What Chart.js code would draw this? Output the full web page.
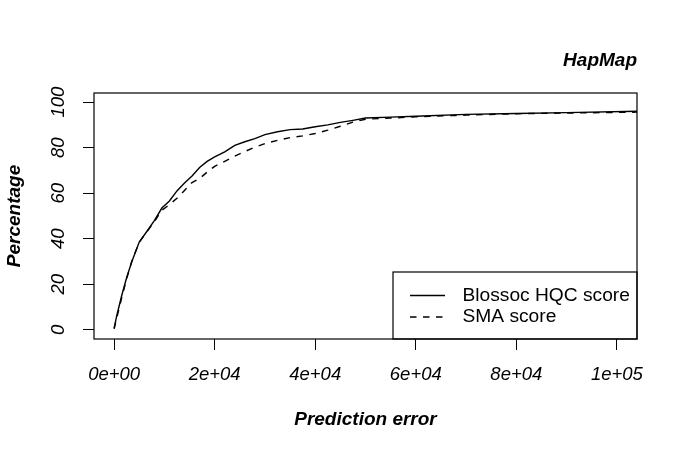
<!DOCTYPE html>
<html>
<head>
<meta charset="utf-8">
<script src="https://cdn.jsdelivr.net/npm/chart.js@4/dist/chart.umd.min.js"></script>
<style>
  html, body { margin: 0; padding: 0; background: #fff; }
  #wrap { width: 685px; height: 456px; }
</style>
</head>
<body>
<div id="wrap"><canvas id="hapmapChart" width="685" height="456"></canvas></div>
<script>
// prediction error grid and cumulative percentages
const errorGrid = [0, 500, 1500, 2500, 3500, 5000, 6500, 8000, 9500, 11000,
    12500, 14000, 15500, 17000, 18500, 20000, 22000, 24000, 26000, 28000,
    30000, 32500, 35000, 37500, 40000, 42500, 45000, 47500, 50000, 55000,
    60000, 70000, 80000, 90000, 104000];
const blossocPct = [0.7, 6, 15, 23, 29.8, 38.6, 43.2, 48, 53.5, 56.6,
    61, 64.5, 67.6, 71.3, 74, 76, 78.2, 81, 82.6, 84,
    85.7, 87, 87.9, 88.2, 89.2, 90, 91.1, 92, 93, 93.4,
    93.8, 94.6, 95.0, 95.4, 96.0];
const smaPct = [0.5, 5, 14, 22.5, 30, 38.5, 43, 47.5, 52.5, 55,
    57.8, 61.2, 64.7, 66.4, 69.3, 71.8, 74, 76.3, 78.3, 80.2,
    81.8, 83.2, 84.4, 85.2, 86.2, 87.7, 89.4, 91.2, 92.5, 93.0,
    93.5, 94.3, 94.9, 95.2, 95.6];

const seriesNames = ['Blossoc HQC score', 'SMA score'];
const xTickValues = [0, 20000, 40000, 60000, 80000, 100000];
const xTickLabels = ['0e+00', '2e+04', '4e+04', '6e+04', '8e+04', '1e+05'];
const yTickValues = [0, 20, 40, 60, 80, 100];
const yTickLabels = ['0', '20', '40', '60', '80', '100'];

const FAMILY = '"Liberation Sans", Arial, Helvetica, sans-serif';

const toPoints = (xs, ys) => xs.map((x, i) => ({ x: x, y: ys[i] }));

// R style box round the plot region plus the bottom-right legend
const boxAndLegend = {
    id: 'boxAndLegend',
    afterDraw(chart) {
        const { ctx, chartArea: a } = chart;
        ctx.save();
        ctx.strokeStyle = '#000';
        ctx.lineWidth = 1.2;
        ctx.strokeRect(a.left, a.top, a.right - a.left, a.bottom - a.top);

        const w = 244, h = 67;
        const lx = a.right - w, ly = a.bottom - h;
        ctx.strokeRect(lx, ly, w, h);
        ctx.font = '19.2px ' + FAMILY;
        ctx.fillStyle = '#000';
        ctx.textBaseline = 'middle';
        chart.data.datasets.forEach((ds, i) => {
            const yy = ly + 23.5 + i * 21.5;
            ctx.beginPath();
            ctx.setLineDash(ds.borderDash || []);
            ctx.lineWidth = ds.borderWidth;
            ctx.moveTo(lx + 17, yy);
            ctx.lineTo(lx + 52, yy);
            ctx.stroke();
            ctx.setLineDash([]);
            ctx.fillText(ds.label, lx + 69.5, yy);
        });
        ctx.restore();
    }
};

const ctx = document.getElementById('hapmapChart').getContext('2d');
new Chart(ctx, {
    type: 'line',
    data: {
        datasets: [{
            label: seriesNames[0],
            data: toPoints(errorGrid, blossocPct),
            borderColor: '#000',
            borderWidth: 1.4,
            pointRadius: 0,
            tension: 0,
            fill: false
        }, {
            label: seriesNames[1],
            data: toPoints(errorGrid, smaPct),
            borderColor: '#000',
            borderWidth: 1.4,
            borderDash: [6.5, 6.5],
            pointRadius: 0,
            tension: 0,
            fill: false
        }]
    },
    options: {
        responsive: false,
        animation: false,
        devicePixelRatio: 1,
        layout: { padding: { left: 0, right: 48, top: 0, bottom: 0 } },
        plugins: {
            legend: { display: false },
            tooltip: { enabled: false },
            title: {
                display: true,
                text: 'HapMap',
                align: 'end',
                fullSize: false,
                color: '#000',
                font: { family: FAMILY, size: 19, style: 'italic', weight: 'bold', lineHeight: 1.2 },
                padding: { top: 49.3, bottom: 20.9 }
            }
        },
        scales: {
            x: {
                type: 'linear',
                min: -4000,
                max: 104000,
                afterBuildTicks: s => { s.ticks = xTickValues.map(v => ({ value: v })); },
                afterFit: s => { s.height = 117; },
                border: { display: false },
                grid: {
                    drawOnChartArea: false,
                    drawTicks: true,
                    tickLength: 11,
                    tickColor: '#000',
                    tickWidth: 1
                },
                ticks: {
                    autoSkip: false,
                    maxRotation: 0,
                    padding: 14,
                    color: '#000',
                    font: { family: FAMILY, size: 18.5, style: 'italic', lineHeight: 1.2 },
                    callback: (v, i) => xTickLabels[i]
                },
                title: {
                    display: true,
                    text: 'Prediction error',
                    color: '#000',
                    font: { family: FAMILY, size: 19, style: 'italic', weight: 'bold', lineHeight: 1.2 },
                    padding: { top: 0, bottom: 24.6 }
                }
            },
            y: {
                type: 'linear',
                min: -4,
                max: 104,
                afterBuildTicks: s => { s.ticks = yTickValues.map(v => ({ value: v })); },
                afterFit: s => { s.width = 94; },
                border: { display: false },
                grid: {
                    drawOnChartArea: false,
                    drawTicks: true,
                    tickLength: 11,
                    tickColor: '#000',
                    tickWidth: 1
                },
                ticks: {
                    autoSkip: false,
                    minRotation: 90,
                    maxRotation: 90,
                    crossAlign: 'center',
                    padding: 8.6,
                    color: '#000',
                    font: { family: FAMILY, size: 18.5, style: 'italic', lineHeight: 1.2 },
                    callback: (v, i) => yTickLabels[i]
                },
                title: {
                    display: true,
                    text: 'Percentage',
                    color: '#000',
                    font: { family: FAMILY, size: 19, style: 'italic', weight: 'bold', lineHeight: 1.2 },
                    padding: { top: 3.6, bottom: 0 }
                }
            }
        }
    },
    plugins: [boxAndLegend]
});
</script>
</body>
</html>
